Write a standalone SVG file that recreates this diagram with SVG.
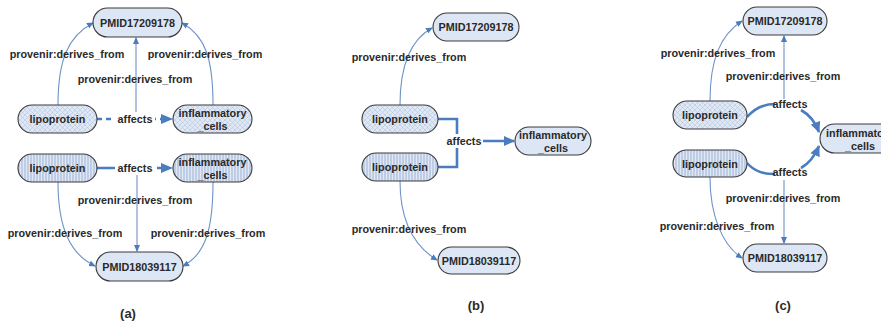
<svg xmlns="http://www.w3.org/2000/svg" width="881" height="322" viewBox="0 0 881 322">
<style>
.n{stroke:#3a3a3a;stroke-width:1.1}
.plain{fill:#dde6f4}
.hatch{fill:url(#hatch)}
.vs{fill:url(#vs)}
text{font-family:"Liberation Sans",Arial,sans-serif;font-weight:bold;font-size:10.8px;fill:#2a2a2a;text-anchor:middle;dominant-baseline:central}
.cap{font-size:13px;font-weight:bold}
.thin{fill:none;stroke:#6f93c6;stroke-width:1.1;marker-end:url(#ah)}
.thick{fill:none;stroke:#4a7cc0;stroke-width:2.6}
.lbl{fill:#fff}
.big{fill:#4a7cc0}
</style>
<defs>
<pattern id="hatch" width="5" height="5" patternUnits="userSpaceOnUse">
<rect width="5" height="5" fill="#e0e8f5"/>
<path d="M0,0L5,5M5,0L0,5" stroke="#b4c4de" stroke-width="0.6"/>
</pattern>
<pattern id="vs" width="3" height="3" patternUnits="userSpaceOnUse">
<rect width="3" height="3" fill="#e0e8f5"/>
<path d="M1,0V3" stroke="#9cb1d4" stroke-width="1"/>
</pattern>
<marker id="ah" markerWidth="7" markerHeight="7" refX="6" refY="3.5" orient="auto" markerUnits="userSpaceOnUse">
<path d="M0,0.5L7,3.5L0,6.5z" fill="#4a7cc0"/>
</marker>
<marker id="ahb" markerWidth="11" markerHeight="11" refX="10" refY="5.5" orient="auto" markerUnits="userSpaceOnUse">
<path d="M0,0.5L11,5.5L0,10.5z" fill="#4a7cc0"/>
</marker>
</defs>

<g id="connectors">
<!-- (a) -->
<path class="thin" d="M58,105C58,60 68,36 93,23"/>
<path class="thin" d="M213,105C213,60 206,36 182,23"/>
<path class="thin" d="M136,113V38"/>
<path class="thick" d="M97,119H162" stroke-dasharray="5,4" stroke-width="2"/>
<path class="big" d="M161,114L173,119L161,124z"/>
<path class="thick" d="M97,168H162" stroke-width="2"/>
<path class="big" d="M161,163L173,168L161,173z"/>
<path class="thin" d="M137,174V251"/>
<path class="thin" d="M58,182C58,228 70,254 95,266"/>
<path class="thin" d="M213,182C213,228 206,254 183,266"/>
<!-- (b) -->
<path class="thin" d="M400,105C400,65 410,40 432,28"/>
<path class="thin" d="M400,181C400,220 414,246 437,260"/>
<path class="thick" d="M438,119H457V167H438"/>
<path class="thick" d="M457,141H514" marker-end="url(#ahb)"/>
<!-- (c) -->
<path class="thin" d="M710,101C710,60 720,35 742,21"/>
<path class="thin" d="M710,177C710,215 722,245 742,258"/>
<path class="thin" d="M784,99V36"/>
<path class="thin" d="M784,180V243"/>
<path class="thick" d="M747,117C755,108 764,104 775,104"/>
<path class="thick" d="M801,110C810,115 816,124 819,132" marker-end="url(#ahb)"/>
<path class="thick" d="M747,163C755,172 764,174 775,174"/>
<path class="thick" d="M801,168C810,163 816,153 819,146" marker-end="url(#ahb)"/>
</g>

<g id="edge-labels">
<text x="67" y="54">provenir:derives_from</text>
<text x="205" y="54">provenir:derives_from</text>
<text x="135" y="79">provenir:derives_from</text>
<rect class="lbl" x="115" y="112" width="40" height="14"/>
<text x="135" y="119">affects</text>
<rect class="lbl" x="115" y="161" width="42" height="14"/>
<text x="135" y="168">affects</text>
<text x="135" y="200">provenir:derives_from</text>
<text x="65" y="233">provenir:derives_from</text>
<text x="208" y="233">provenir:derives_from</text>

<text x="409" y="57">provenir:derives_from</text>
<rect class="lbl" x="446" y="134" width="37" height="14"/>
<text x="464" y="141">affects</text>
<text x="409" y="229">provenir:derives_from</text>

<text x="718" y="53">provenir:derives_from</text>
<text x="783" y="76">provenir:derives_from</text>
<text x="790" y="104">affects</text>
<text x="790" y="172">affects</text>
<text x="783" y="198">provenir:derives_from</text>
<text x="717" y="226">provenir:derives_from</text>
</g>

<!-- panel (a) nodes -->
<g id="a-pmid1"><rect class="n plain" x="93" y="8" width="89" height="29" rx="14.5"/><text x="137.5" y="22.5">PMID17209178</text></g>
<g id="a-lipo1"><rect class="n hatch" x="18" y="105" width="79" height="28" rx="14"/><text x="57.5" y="119">lipoprotein</text></g>
<g id="a-infl1"><rect class="n hatch" x="173" y="105" width="79" height="28" rx="14"/><text x="212.5" y="113">inflammatory</text><text x="212.5" y="126">_cells</text></g>
<g id="a-lipo2"><rect class="n vs" x="18" y="154" width="79" height="28" rx="14"/><text x="57.5" y="168">lipoprotein</text></g>
<g id="a-infl2"><rect class="n vs" x="173" y="154" width="79" height="28" rx="14"/><text x="212.5" y="162">inflammatory</text><text x="212.5" y="175">_cells</text></g>
<g id="a-pmid2"><rect class="n plain" x="96" y="252" width="87" height="29" rx="14.5"/><text x="139.5" y="266.5">PMID18039117</text></g>

<!-- panel (b) nodes -->
<g id="b-pmid1"><rect class="n plain" x="433" y="13" width="86" height="28" rx="14"/><text x="476" y="27">PMID17209178</text></g>
<g id="b-lipo1"><rect class="n hatch" x="362" y="105" width="76" height="28" rx="14"/><text x="400" y="119">lipoprotein</text></g>
<g id="b-lipo2"><rect class="n vs" x="362" y="153" width="76" height="28" rx="14"/><text x="400" y="167">lipoprotein</text></g>
<g id="b-infl"><rect class="n plain" x="515" y="127" width="76" height="28" rx="14"/><text x="553" y="135">inflammatory</text><text x="553" y="148">_cells</text></g>
<g id="b-pmid2"><rect class="n plain" x="438" y="247" width="82" height="27" rx="13.5"/><text x="479" y="260.5">PMID18039117</text></g>

<!-- panel (c) nodes -->
<g id="c-pmid1"><rect class="n plain" x="743" y="7" width="84" height="28" rx="14"/><text x="785" y="21">PMID17209178</text></g>
<g id="c-lipo1"><rect class="n hatch" x="673" y="101" width="74" height="28" rx="14"/><text x="710" y="115">lipoprotein</text></g>
<g id="c-lipo2"><rect class="n vs" x="673" y="150" width="74" height="27" rx="13.5"/><text x="710" y="163.5">lipoprotein</text></g>
<g id="c-infl"><rect class="n plain" x="820" y="124" width="80" height="29" rx="14.5"/><text x="860" y="132.5">inflammatory</text><text x="860" y="145.5">_cells</text></g>
<g id="c-pmid2"><rect class="n plain" x="743" y="244" width="84" height="28" rx="14"/><text x="785" y="258">PMID18039117</text></g>

<g id="captions">
<text class="cap" x="128" y="313">(a)</text>
<text class="cap" x="476" y="305">(b)</text>
<text class="cap" x="783" y="305">(c)</text>
</g>
</svg>
